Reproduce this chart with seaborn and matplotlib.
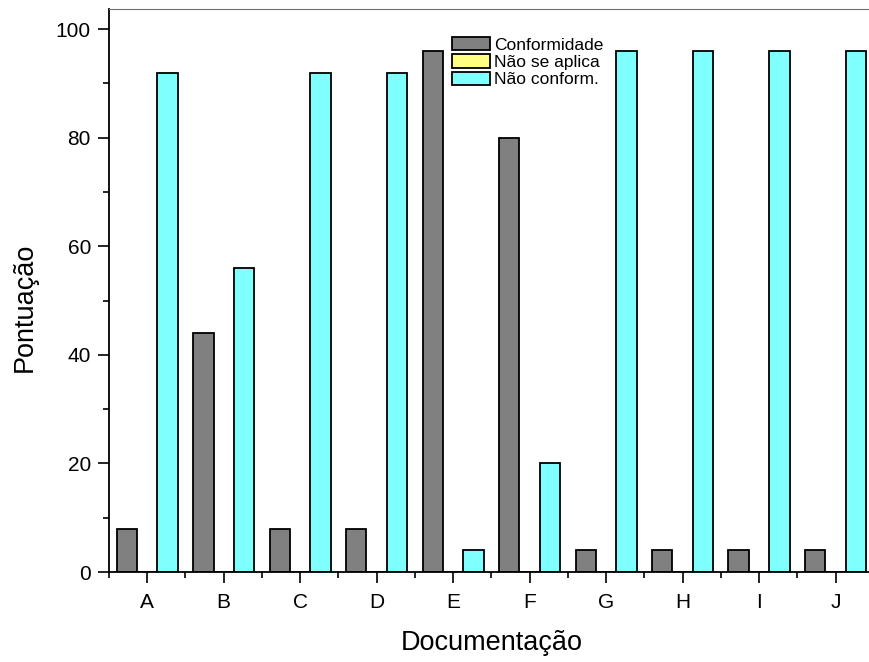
import matplotlib
matplotlib.use("Agg")
import matplotlib.pyplot as plt
import seaborn as sns
import pandas as pd
from matplotlib.ticker import MultipleLocator, FixedLocator

categories = ["A", "B", "C", "D", "E", "F", "G", "H", "I", "J"]
series = ["Conformidade", "Não se aplica", "Não conform."]
conformidade = [8, 44, 8, 8, 96, 80, 4, 4, 4, 4]
nao_se_aplica = [0, 0, 0, 0, 0, 0, 0, 0, 0, 0]
nao_conform = [92, 56, 92, 92, 4, 20, 96, 96, 96, 96]
colors = ["#808080", "#FFFF80", "#80FFFF"]

rows = []
for name, vals in zip(series, [conformidade, nao_se_aplica, nao_conform]):
    for c, v in zip(categories, vals):
        rows.append({"Documentação": c, "Pontuação": v, "serie": name})
df = pd.DataFrame(rows)

sns.set_style("ticks")
plt.rcParams["font.family"] = ["Liberation Sans", "DejaVu Sans"]
plt.rcParams["text.color"] = "black"
plt.rcParams["axes.labelcolor"] = "black"
plt.rcParams["xtick.color"] = "black"
plt.rcParams["ytick.color"] = "black"

fig = plt.figure(figsize=(8.69, 6.62), dpi=100)
ax = fig.add_axes([109 / 869, 90 / 662, (873.8 - 109) / 869, (572 - 9) / 662])

sns.barplot(data=df, x="Documentação", y="Pontuação", hue="serie",
            hue_order=series, order=categories, palette=colors,
            saturation=1, edgecolor="black", linewidth=1.3, width=0.8,
            ax=ax, errorbar=None, legend=True)

ax.set_xlim(-0.5, 9.5)
ax.set_ylim(0, 103.7)
ax.yaxis.set_major_locator(MultipleLocator(20))
ax.yaxis.set_minor_locator(MultipleLocator(10))
ax.xaxis.set_minor_locator(FixedLocator([i + 0.5 for i in range(-1, 10)]))

ax.tick_params(axis="both", which="major", direction="out", length=8,
               width=1.2, labelsize=15, color="black", labelcolor="black")
ax.tick_params(axis="x", which="major", pad=7)
ax.tick_params(axis="y", which="major", pad=5)
ax.tick_params(axis="both", which="minor", direction="out", length=4,
               width=1.2, color="black")

for s in ["left", "bottom"]:
    ax.spines[s].set_color("black")
    ax.spines[s].set_linewidth(1.3)
ax.spines["top"].set_color("#707070")
ax.spines["top"].set_linewidth(0.8)
ax.spines["right"].set_visible(False)

ax.set_xlabel("Documentação", fontsize=19.5, labelpad=13, color="black")
ax.set_ylabel("Pontuação", fontsize=19.5, color="black")
ax.yaxis.set_label_coords(-0.093, 0.47)

handles, labels = ax.get_legend_handles_labels()
ax.legend(handles, labels, loc="upper left",
          bbox_to_anchor=(452 / 869, 1 - 37 / 662),
          bbox_transform=fig.transFigure, frameon=False, fontsize=12.5,
          handlelength=2.2, handleheight=0.8, labelspacing=0.1,
          handletextpad=0.2, borderpad=0, borderaxespad=0)

fig.savefig("out.png", dpi=100)
